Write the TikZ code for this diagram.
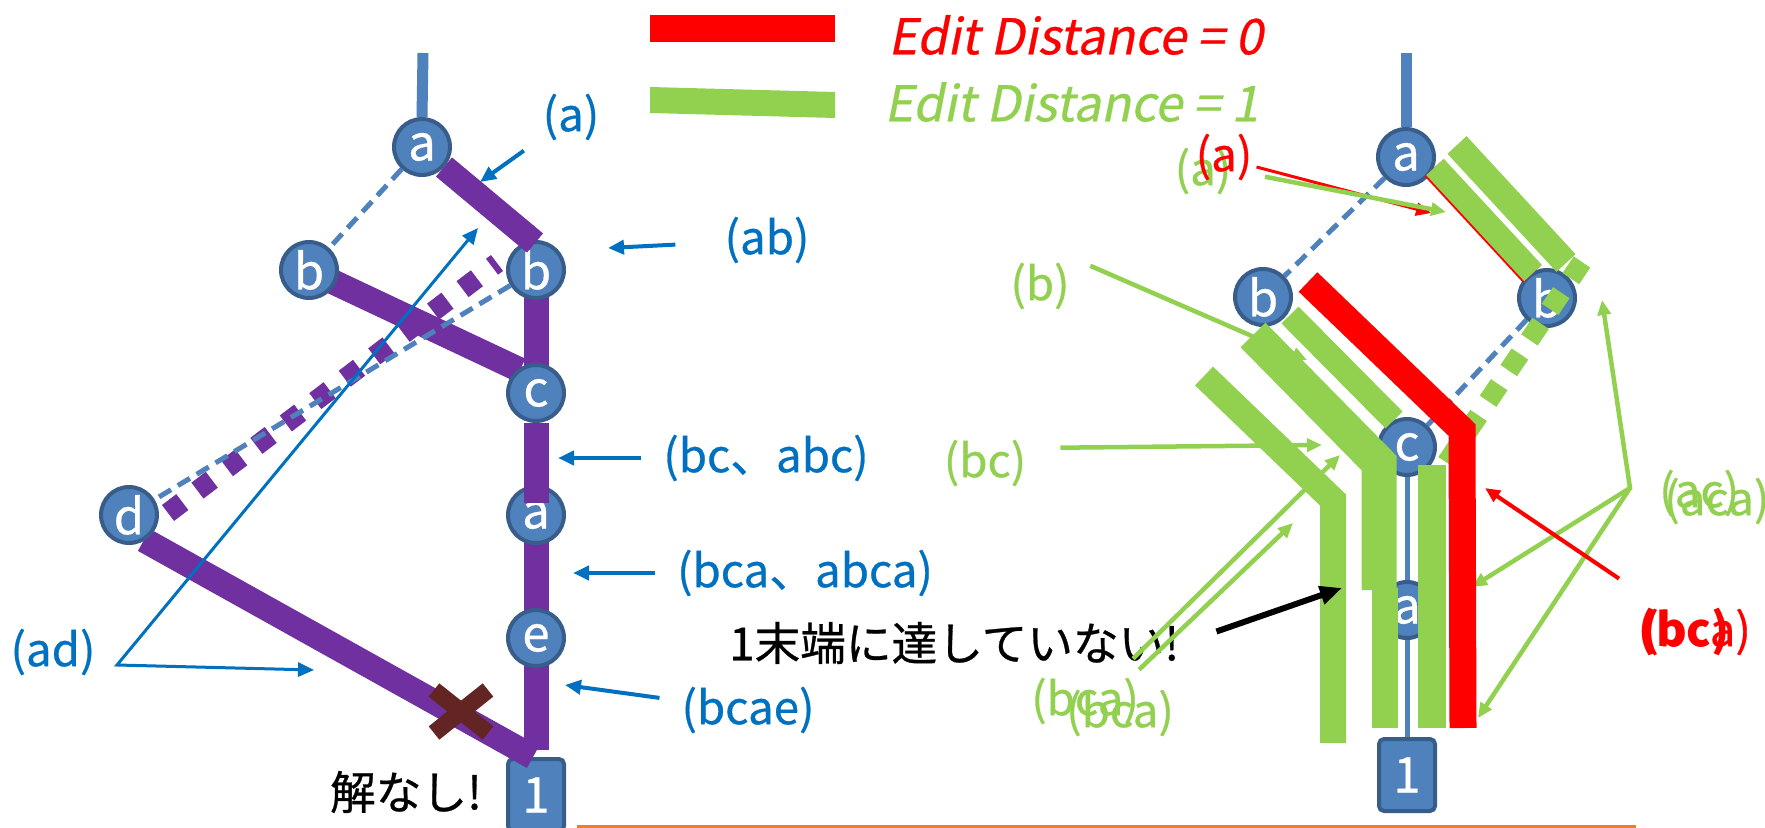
\documentclass[tikz,border=0pt]{standalone}
\usepackage{fontspec}
\setmainfont{Noto Sans CJK JP}[UprightFeatures={FakeBold=0.6}]
\newfontfamily\slantfont{Noto Sans CJK JP}[FakeSlant=0.2, FakeBold=0.6]
\usetikzlibrary{arrows.meta}

\definecolor{nodefill}{HTML}{4F81BD}
\definecolor{nodeline}{HTML}{385D8A}
\definecolor{lblblue}{HTML}{0070C0}
\definecolor{pathpurple}{HTML}{7030A0}
\definecolor{okgreen}{HTML}{92D050}
\definecolor{crossred}{HTML}{632523}
\definecolor{rulecolor}{HTML}{ED7D31}

\tikzset{
  tnode/.style={circle, draw=nodeline, fill=nodefill, line width=0.4mm, minimum size=5.6mm, inner sep=0pt, text=white, font=\fontsize{14pt}{14pt}\selectfont},
  tleaf/.style={rectangle, rounded corners=0.5mm, draw=nodeline, fill=nodefill, line width=0.4mm, minimum width=5.6mm, minimum height=7.2mm, inner sep=0pt, text=white, font=\fontsize{14pt}{14pt}\selectfont},
  stem/.style={draw=nodefill, line width=1.1mm},
  dedge/.style={draw=nodefill, line width=0.5mm, dash pattern=on 1.4mm off 0.8mm},
  sedge/.style={draw=nodefill, line width=0.5mm},
  pbar/.style={draw=pathpurple, line width=2.5mm},
  pdots/.style={draw=pathpurple, line width=2mm, dash pattern=on 1.8mm off 1.9mm},
  gbar/.style={draw=okgreen, line width=2.6mm},
  rbar/.style={draw=red, line width=2.7mm},
  gdots/.style={draw=okgreen, line width=2mm, dash pattern=on 2mm off 1.7mm},
  lbl/.style={font=\fontsize{13pt}{15pt}\selectfont, inner sep=1pt},
  keylbl/.style={anchor=west, inner sep=1pt, font=\slantfont\fontsize{14pt}{16pt}\selectfont},
  jplbl/.style={font=\fontsize{13pt}{15pt}\selectfont, inner sep=1pt},
  bluearr/.style={draw=lblblue, line width=0.4mm, -{Triangle[length=1.6mm,width=1.4mm]}},
  bluefork/.style={draw=lblblue, line width=0.3mm, {Triangle[length=1.6mm,width=1.4mm]}-{Triangle[length=1.6mm,width=1.4mm]}},
  greenarr/.style={draw=okgreen, line width=0.45mm, -{Triangle[length=1.5mm,width=1.3mm]}},
  greenfork/.style={draw=okgreen, line width=0.45mm, {Triangle[length=1.5mm,width=1.3mm]}-{Triangle[length=1.5mm,width=1.3mm]}},
  redarr/.style={draw=red, line width=0.4mm, -{Triangle[length=1.5mm,width=1.3mm]}},
}

\begin{document}
\begin{tikzpicture}[x=0.1mm, y=-0.1mm]
\path[use as bounding box, fill=white] (0,0) rectangle (1765,828);

\fill[red] (650,15) rectangle (835,42);
\fill[okgreen] (650,87) -- (835,92) -- (835,118) -- (650,113) -- cycle;
\node[keylbl, text=red] (key0) at (884,35) {Edit Distance = 0};
\node[keylbl, text=okgreen] (key1) at (880,102) {Edit Distance = 1};
\draw[rulecolor, line width=0.3mm] (577,826) -- (1636,826);

\node[tleaf] (l1) at (536,795) {1};
\draw[pbar] (329,280) -- (520,370);
\draw[pbar] (536,270) -- (536,393);
\draw[pbar] (536,515) -- (536,750);
\draw[pbar] (144,540) -- (533,757);
\draw[pdots] (168,513) -- (497,263);
\node[tnode] (la) at (422,147) {a};
\node[tnode] (lb1) at (309,270) {b};
\node[tnode] (lb2) at (536,270) {b};
\node[tnode] (lc) at (536,393) {c};
\node[tnode] (ld) at (129,515) {d};
\node[tnode] (la2) at (536,515) {a};
\node[tnode] (le) at (536,638) {e};
\draw[stem] (la.north) -- (423,53);
\draw[dedge] (la) -- (lb1);
\draw[dedge] (lb2) -- (ld);
\draw[pbar] (444,167) -- (535,243);
\draw[pbar] (lc.south) -- (536,503);
\draw[crossred, line width=1.7mm] (434,690) -- (488,733) (488,690) -- (434,733);

\node[lbl, text=lblblue] (t-a) at (571,117) {(a)};
\node[lbl, text=lblblue] (t-ab) at (767,240) {(ab)};
\node[lbl, text=lblblue] (t-bc) at (766,458) {(bc、abc)};
\node[lbl, text=lblblue] (t-bca) at (805,573) {(bca、abca)};
\node[lbl, text=lblblue] (t-bcae) at (748,710) {(bcae)};
\node[lbl, text=lblblue] (t-ad) at (53,652) {(ad)};
\node[jplbl] (t-none) at (406,792) {解なし!};
\coordinate (p-a) at (480,182);
\coordinate (p-ab) at (608,248);
\coordinate (p-bc) at (558,458);
\coordinate (p-bca) at (573,573);
\coordinate (p-bcae) at (565,685);
\coordinate (ad-fork) at (117,665);
\coordinate (p-ad1) at (478,228);
\coordinate (p-ad2) at (314,670);
\draw[bluearr, shorten <=1.8mm] (t-a) -- (p-a);
\draw[bluearr, shorten <=4.5mm] (t-ab) -- (p-ab);
\draw[bluearr, shorten <=1.8mm] (t-bc) -- (p-bc);
\draw[bluearr, shorten <=1.8mm] (t-bca) -- (p-bca);
\draw[bluearr, shorten <=1.8mm] (t-bcae) -- (p-bcae);
\draw[bluefork] (p-ad1) -- (ad-fork) -- (p-ad2);

\node[tleaf] (r1) at (1407,775) {1};
\node[tnode] (ra) at (1406,157) {a};
\node[tnode] (rb1) at (1263,297) {b};
\node[tnode] (rb2) at (1547,298) {b};
\node[tnode] (rc) at (1407,447) {c};
\node[tnode] (ra2) at (1407,610) {a};
\draw[stem] (ra.north) -- (1406,53);
\draw[dedge] (ra) -- (rb1);
\draw[dedge] (rb2) -- (rc);
\draw[sedge] (rc) -- (ra2) -- (r1);

\node[lbl, text=okgreen] (u-a1) at (1203,171) {(a)};
\node[lbl, text=red] (u-a0) at (1224,157) {(a)};
\node[lbl, text=okgreen] (u-b) at (1040,286) {(b)};
\node[lbl, text=okgreen] (u-bc) at (985,463) {(bc)};
\node[lbl, text=okgreen, anchor=west] (u-bca1) at (1027,701) {(bca)};
\node[lbl, text=okgreen, anchor=west] (u-bca2) at (1062,713) {(bca)};
\node[lbl, text=okgreen, anchor=west] (u-ac) at (1655,493) {(ac)};
\node[lbl, text=okgreen, anchor=west] (u-aca) at (1660,501) {(aca)};
\node[lbl, text=red, anchor=west] (u-bcar) at (1639,632) {(bca)};
\node[lbl, text=red, anchor=west, font=\fontsize{13pt}{15pt}\selectfont\bfseries] (u-bcb) at (1634,632) {(bc)};
\node[jplbl, anchor=west] (t-short) at (725,643) {1末端に達していない!};
\coordinate (q-a) at (1446,212);
\coordinate (q-a0) at (1431,213);
\coordinate (q-b) at (1307,360);
\coordinate (q-bc) at (1322,445);
\coordinate (q-bca1) at (1340,455);
\coordinate (q-bca2) at (1293,523);
\coordinate (ac-fork) at (1630,488);
\coordinate (q-ac1) at (1602,300);
\coordinate (q-ac2) at (1472,587);
\coordinate (q-ac3) at (1478,718);
\coordinate (q-bcar) at (1485,488);
\coordinate (q-short) at (1342,588);
\draw[redarr, line width=0.3mm] ([yshift=-1mm]u-a0.east) -- (q-a0);
\draw[greenarr, shorten <=3mm] (u-a1.east) -- (q-a);
\draw[greenarr, shorten <=1.8mm] (u-b.north east) -- (q-b);
\draw[greenarr, shorten <=3mm] ([yshift=1.5mm]u-bc.east) -- (q-bc);
\draw[greenarr] ([xshift=-1mm,yshift=1.5mm]u-bca1.north east) -- (q-bca1);
\draw[greenarr] ([xshift=-0.4mm,yshift=0.4mm]u-bca1.north east) -- (q-bca2);
\draw[greenfork] (q-ac1) -- (ac-fork) -- (q-ac2);
\draw[greenarr] (ac-fork) -- (q-ac3);
\draw[redarr] ([xshift=-2mm,yshift=2.6mm]u-bcar.north west) -- (q-bcar);

\draw[rbar, line width=2.5mm] (1434,168) -- (1532,274);
\draw[gbar, line width=2.4mm] (1435,167) -- (1533,273);
\draw[gbar] (1457,145) -- (1566,263);
\draw[gdots] (1582,262) -- (1443,468);
\draw[gbar, line width=2.4mm] (1290,315) -- (1394,420);
\draw[gbar, line width=3.5mm] (1253,335) -- (1379,463) -- (1379,590);
\draw[gbar] (1385,588) -- (1385,728);
\draw[gbar] (1204,376) -- (1333,500) -- (1333,743);
\draw[rbar] (1308,282) -- (1462,430) -- (1463,728);
\draw[gbar, line width=2.8mm] (1432,465) -- (1432,728);
\draw[line width=0.6mm, -{Triangle[length=2.2mm,width=1.8mm]}, shorten <=3.5mm] (t-short.east) -- (q-short);
\end{tikzpicture}
\end{document}
